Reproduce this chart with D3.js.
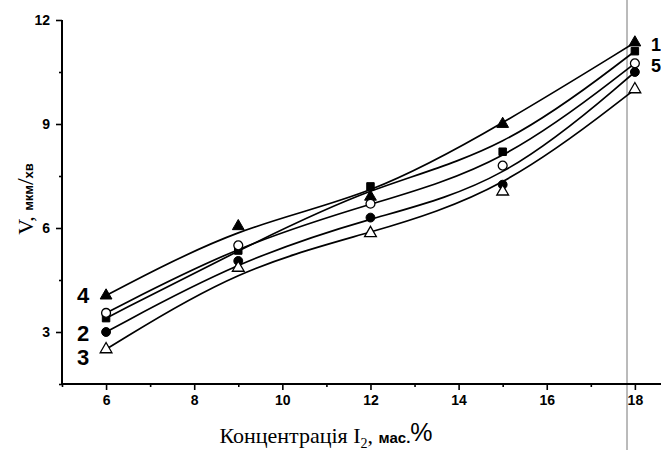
<!DOCTYPE html>
<html>
<head>
<meta charset="utf-8">
<script src="https://cdn.jsdelivr.net/npm/d3@7"></script>
<style>
  body { margin: 0; background: #fff; }
</style>
</head>
<body>
<div id="chart"></div>
<script>
// concentration of I2, mass %
var conc = [6, 9, 12, 15, 18];

// etch rate V, um/min, one array per curve
var v1 = [3.4, 5.35, 7.2, 8.2, 11.1];   // filled square
var v2 = [3.0, 5.05, 6.3, 7.25, 10.5];  // filled circle
var v3 = [2.5, 4.85, 5.85, 7.05, 10.0]; // open triangle
var v4 = [4.05, 6.05, 6.9, 9.0, 11.35]; // filled triangle
var v5 = [3.55, 5.5, 6.7, 7.8, 10.75];  // open circle

var xMajor = [6, 8, 10, 12, 14, 16, 18];
var xMinor = [5, 7, 9, 11, 13, 15, 17];
var yMajor = [3, 6, 9, 12];
var yMinor = [1.5, 4.5, 7.5, 10.5];

var series = [
  { name: "4", vals: v4, sym: d3.symbolTriangle, size: 60, open: false },
  { name: "1", vals: v1, sym: d3.symbolSquare, size: 56, open: false },
  { name: "5", vals: v5, sym: d3.symbolCircle, size: 62, open: true },
  { name: "2", vals: v2, sym: d3.symbolCircle, size: 62, open: false },
  { name: "3", vals: v3, sym: d3.symbolTriangle, size: 60, open: true }
];

var width = 661, height = 450;
var svg = d3.select("#chart").append("svg")
  .attr("width", width)
  .attr("height", height);

var x = d3.scaleLinear().domain([5, 18.57]).range([62, 660]);
var y = d3.scaleLinear().domain([1.5, 12]).range([384, 20]);

// scan edge line on the right
svg.append("line")
  .attr("x1", 627).attr("x2", 627)
  .attr("y1", 0).attr("y2", height)
  .attr("stroke", "#777").attr("stroke-width", 1);

// axes
var xAxis = svg.append("g").attr("transform", "translate(0," + y(1.5) + ")");
xAxis.call(d3.axisBottom(x).tickValues(xMajor).tickSize(6).tickPadding(5).tickFormat(d3.format("d")));
xAxis.append("g").call(d3.axisBottom(x).tickValues(xMinor).tickSize(3).tickFormat(""));

var yAxis = svg.append("g").attr("transform", "translate(" + x(5) + ",0)");
yAxis.call(d3.axisLeft(y).tickValues(yMajor).tickSize(6).tickPadding(6).tickFormat(d3.format("d")));
yAxis.append("g").call(d3.axisLeft(y).tickValues(yMinor).tickSize(3).tickFormat(""));

svg.selectAll(".domain").attr("stroke", "#000").attr("stroke-width", 2);
svg.selectAll(".tick line").attr("stroke", "#000").attr("stroke-width", 1.6);
svg.selectAll(".tick text")
  .attr("fill", "#000")
  .style("font-family", "'Liberation Sans', Arial, sans-serif")
  .style("font-size", "14px")
  .style("font-weight", "bold");
xAxis.selectAll(".domain").attr("d", "M" + x(5) + ",0H" + width);
yAxis.selectAll(".domain").attr("d", "M0," + y(1.5) + "V" + y(12));

// curves (B-spline through data points)
var line = d3.line()
  .x(function(d, i) { return x(conc[i]); })
  .y(function(d) { return y(d); })
  .curve(d3.curveBasis);

svg.append("g")
  .selectAll("path")
  .data(series)
  .enter()
  .append("path")
    .attr("d", function(d) { return line(d.vals); })
    .attr("fill", "none")
    .attr("stroke", "#000")
    .attr("stroke-width", 1.7);

// markers
series.forEach(function(s) {
  svg.append("g")
    .selectAll("path")
    .data(s.vals)
    .enter()
    .append("path")
      .attr("d", d3.symbol().type(s.sym).size(s.size))
      .attr("transform", function(d, i) { return "translate(" + x(conc[i]) + "," + y(d) + ")"; })
      .attr("fill", s.open ? "#fff" : "#000")
      .attr("stroke", "#000")
      .attr("stroke-width", s.open ? 1.3 : 1);
});

// curve numbers
var labelStyle = function(sel, size) {
  sel.style("font-family", "'Liberation Sans', Arial, sans-serif")
    .style("font-size", size + "px")
    .style("font-weight", "bold")
    .attr("fill", "#000");
};
svg.append("text").attr("x", 77).attr("y", 303).text("4").call(labelStyle, 22);
svg.append("text").attr("x", 77).attr("y", 341).text("2").call(labelStyle, 22);
svg.append("text").attr("x", 77).attr("y", 365).text("3").call(labelStyle, 22);
svg.append("text").attr("x", 651).attr("y", 51).text("1").call(labelStyle, 18);
svg.append("text").attr("x", 651).attr("y", 72).text("5").call(labelStyle, 18);

// axis titles
var xt = svg.append("text")
  .attr("x", 326).attr("y", 443)
  .attr("text-anchor", "middle")
  .attr("fill", "#000")
  .style("font-family", "'Liberation Serif', 'Times New Roman', serif")
  .style("font-size", "22px");
xt.append("tspan").text("Концентрація I");
xt.append("tspan").attr("dy", 5).style("font-size", "14px").text("2");
xt.append("tspan").attr("dy", -5).text(", ");
xt.append("tspan").style("font-family", "'Liberation Sans', Arial, sans-serif")
  .style("font-size", "15px").style("font-weight", "bold").text("мас.");
xt.append("tspan").style("font-family", "'Liberation Sans', Arial, sans-serif")
  .style("font-size", "25px").attr("dy", -2).text("%");

var yt = svg.append("text")
  .attr("transform", "translate(33,199) rotate(-90)")
  .attr("text-anchor", "middle")
  .attr("fill", "#000")
  .style("font-family", "'Liberation Serif', 'Times New Roman', serif")
  .style("font-size", "22px");
yt.append("tspan").text("V");
yt.append("tspan").text(", ");
yt.append("tspan").style("font-family", "'Liberation Sans', Arial, sans-serif")
  .style("font-size", "13px").style("font-weight", "bold").text("мкм");
yt.append("tspan").style("font-size", "24px").text("/");
yt.append("tspan").style("font-family", "'Liberation Sans', Arial, sans-serif")
  .style("font-size", "13px").style("font-weight", "bold").text("хв");
</script>
</body>
</html>
